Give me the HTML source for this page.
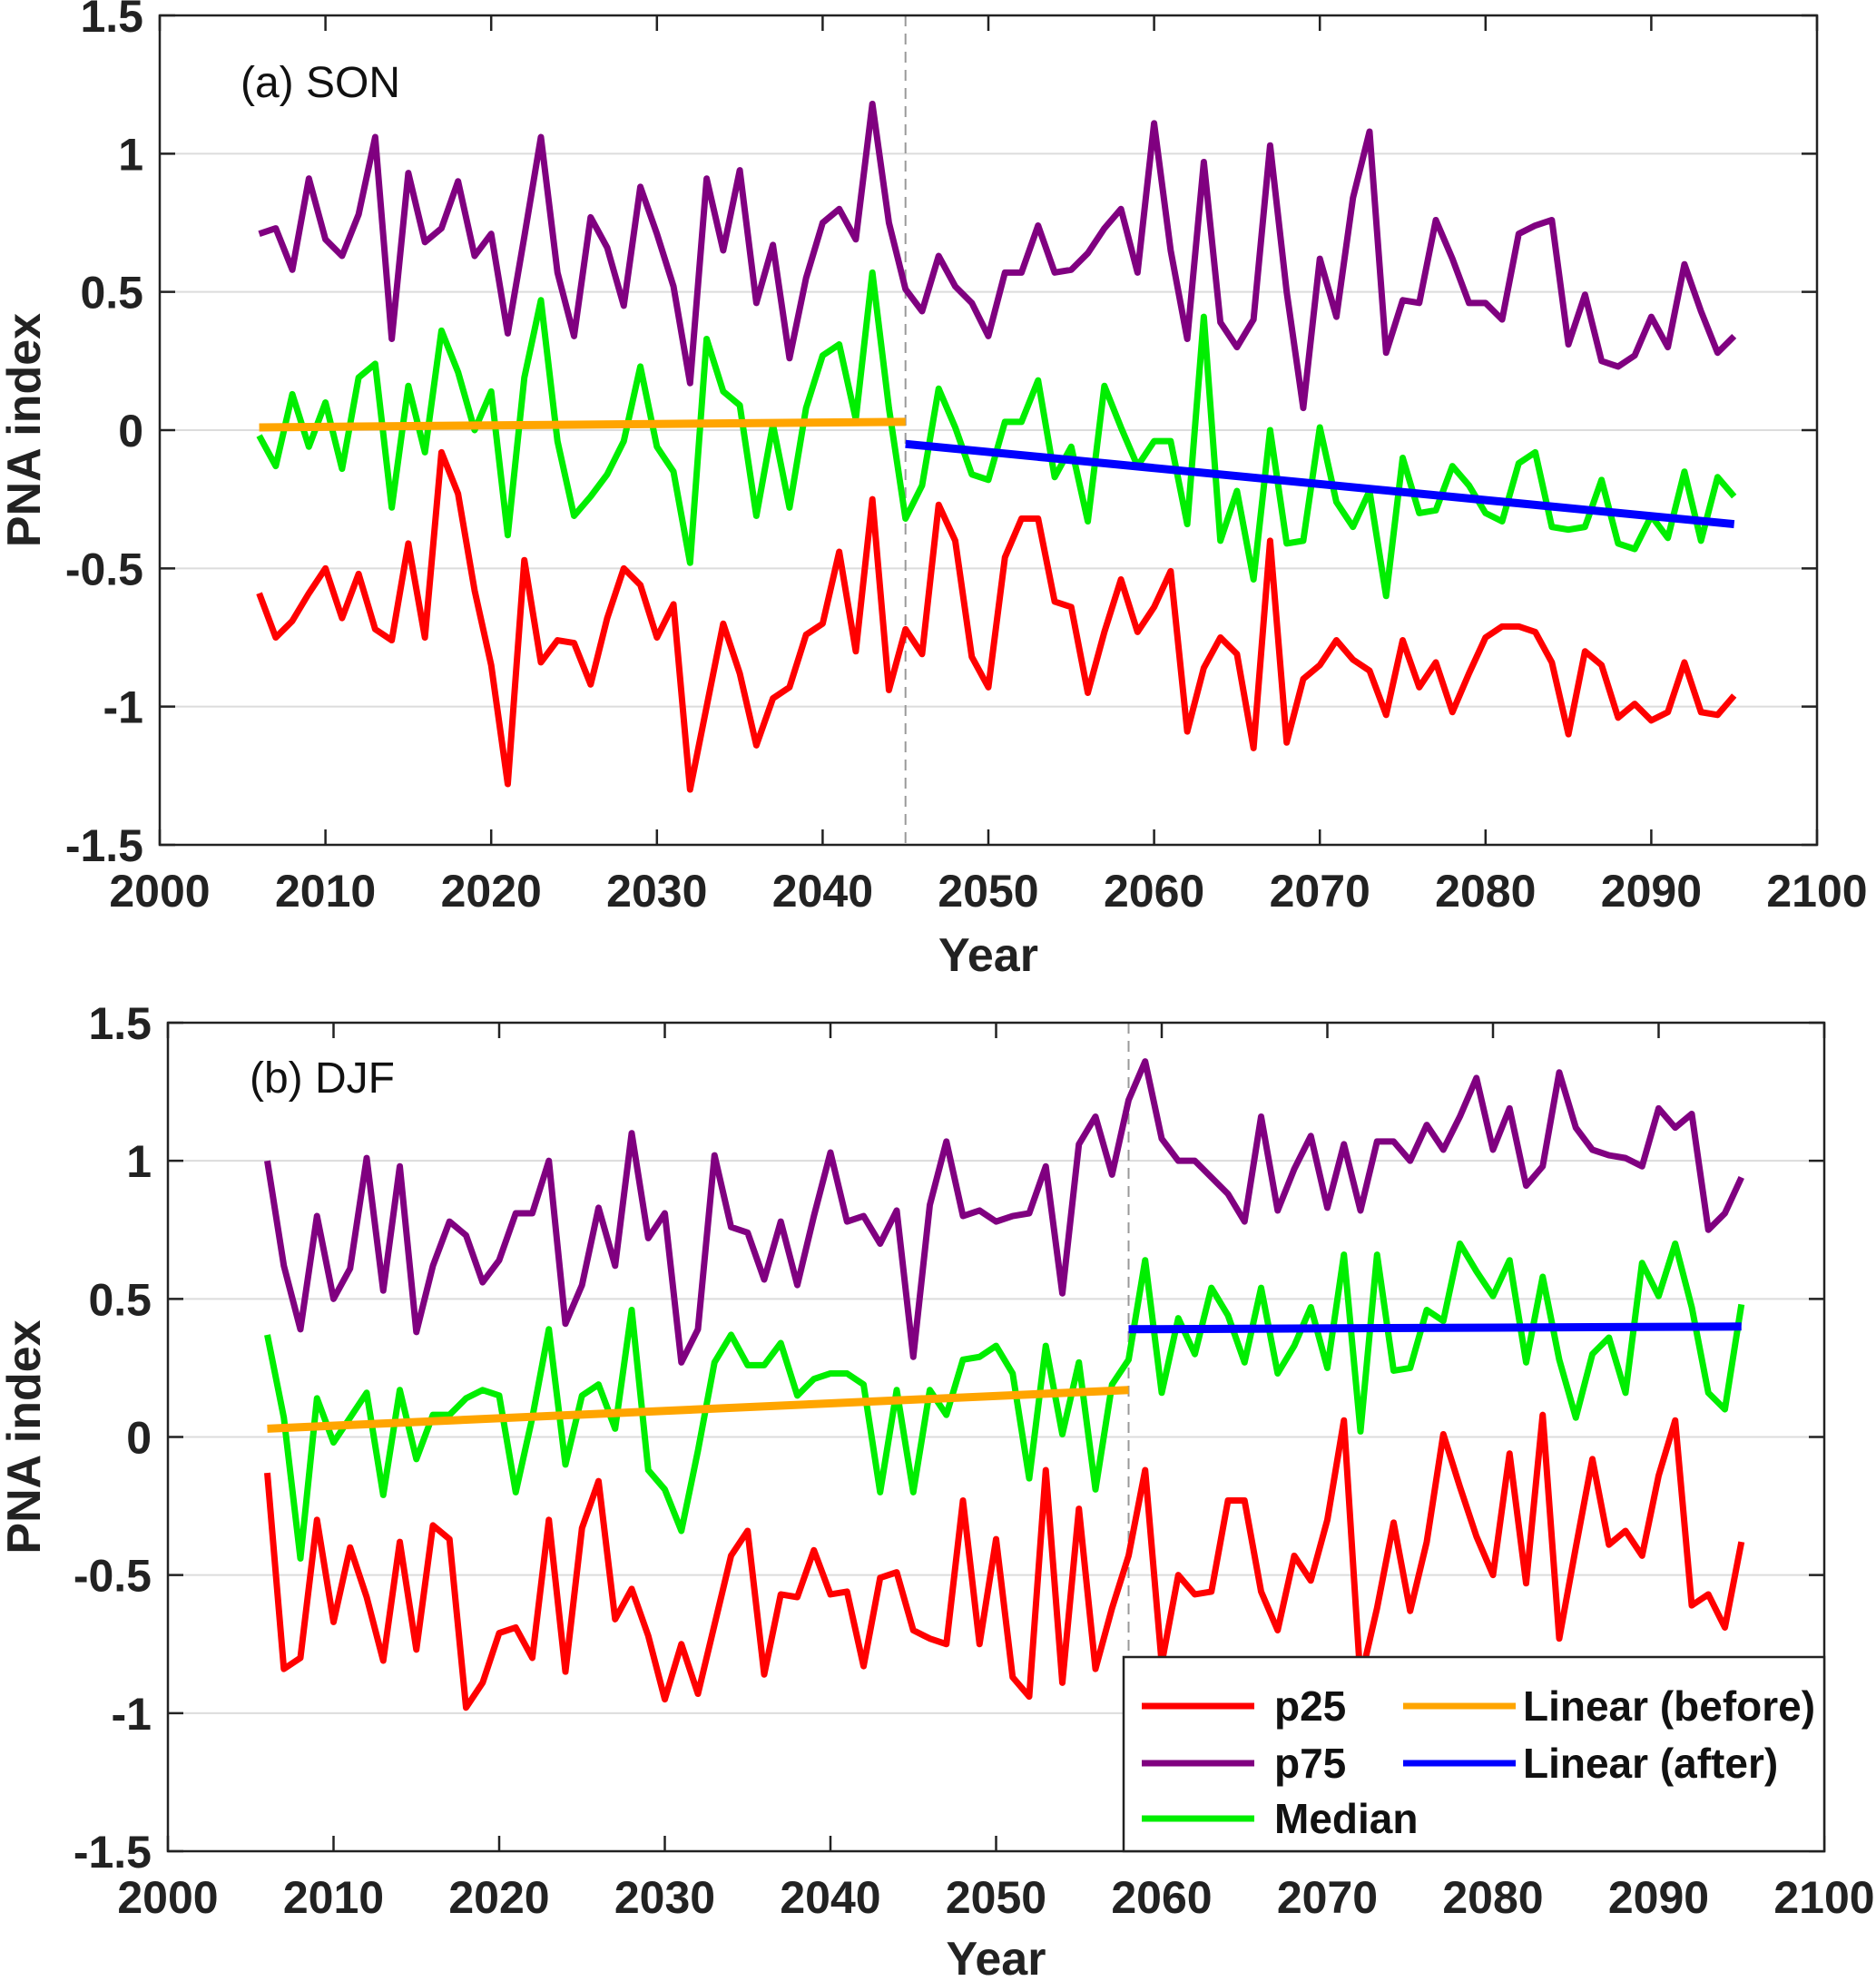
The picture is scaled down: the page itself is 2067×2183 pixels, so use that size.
<!DOCTYPE html>
<html><head><meta charset="utf-8"><style>
body{margin:0;background:#fff}
svg{display:block;font-family:"Liberation Sans",Arial,sans-serif}
</style></head><body>
<svg id="fig" width="2067" height="2183" viewBox="0 0 2067 2183" xmlns="http://www.w3.org/2000/svg"></svg>
<script>
const years = Array.from({length:90},(_, i)=>2006+i);
const xTicks = [2000,2010,2020,2030,2040,2050,2060,2070,2080,2090,2100];
const yTicks = [-1.5,-1,-0.5,0,0.5,1,1.5];
const yTickLabels = ["-1.5","-1","-0.5","0","0.5","1","1.5"];

const sonP75 = [0.71,0.73,0.58,0.91,0.69,0.63,0.78,1.06,0.33,0.93,0.68,0.73,0.90,0.63,0.71,0.35,0.70,1.06,0.57,0.34,0.77,0.66,0.45,0.88,0.71,0.52,0.17,0.91,0.65,0.94,0.46,0.67,0.26,0.55,0.75,0.80,0.69,1.18,0.75,0.51,0.43,0.63,0.52,0.46,0.34,0.57,0.57,0.74,0.57,0.58,0.64,0.73,0.80,0.57,1.11,0.65,0.33,0.97,0.39,0.30,0.40,1.03,0.50,0.08,0.62,0.41,0.84,1.08,0.28,0.47,0.46,0.76,0.62,0.46,0.46,0.40,0.71,0.74,0.76,0.31,0.49,0.25,0.23,0.27,0.41,0.30,0.60,0.43,0.28,0.34];
const sonMed = [-0.02,-0.13,0.13,-0.06,0.10,-0.14,0.19,0.24,-0.28,0.16,-0.08,0.36,0.21,0.00,0.14,-0.38,0.19,0.47,-0.04,-0.31,-0.24,-0.16,-0.04,0.23,-0.06,-0.15,-0.48,0.33,0.14,0.09,-0.31,0.02,-0.28,0.08,0.27,0.31,0.04,0.57,0.08,-0.32,-0.20,0.15,0.01,-0.16,-0.18,0.03,0.03,0.18,-0.17,-0.06,-0.33,0.16,0.01,-0.13,-0.04,-0.04,-0.34,0.41,-0.40,-0.22,-0.54,0.00,-0.41,-0.40,0.01,-0.26,-0.35,-0.22,-0.60,-0.10,-0.30,-0.29,-0.13,-0.20,-0.30,-0.33,-0.12,-0.08,-0.35,-0.36,-0.35,-0.18,-0.41,-0.43,-0.31,-0.39,-0.15,-0.40,-0.17,-0.24];
const sonP25 = [-0.59,-0.75,-0.69,-0.59,-0.50,-0.68,-0.52,-0.72,-0.76,-0.41,-0.75,-0.08,-0.23,-0.58,-0.85,-1.28,-0.47,-0.84,-0.76,-0.77,-0.92,-0.68,-0.50,-0.56,-0.75,-0.63,-1.30,-1.00,-0.70,-0.88,-1.14,-0.97,-0.93,-0.74,-0.70,-0.44,-0.80,-0.25,-0.94,-0.72,-0.81,-0.27,-0.40,-0.82,-0.93,-0.46,-0.32,-0.32,-0.62,-0.64,-0.95,-0.73,-0.54,-0.73,-0.64,-0.51,-1.09,-0.86,-0.75,-0.81,-1.15,-0.40,-1.13,-0.90,-0.85,-0.76,-0.83,-0.87,-1.03,-0.76,-0.93,-0.84,-1.02,-0.88,-0.75,-0.71,-0.71,-0.73,-0.84,-1.10,-0.80,-0.85,-1.04,-0.99,-1.05,-1.02,-0.84,-1.02,-1.03,-0.96];
const sonBreak = 2045;
const sonTrendBefore = [[2006,0.01],[2045,0.03]];
const sonTrendAfter = [[2045,-0.05],[2095,-0.34]];

const djfP75 = [1.00,0.62,0.39,0.80,0.50,0.61,1.01,0.53,0.98,0.38,0.62,0.78,0.73,0.56,0.64,0.81,0.81,1.00,0.41,0.55,0.83,0.62,1.10,0.72,0.81,0.27,0.39,1.02,0.76,0.74,0.57,0.78,0.55,0.80,1.03,0.78,0.80,0.70,0.82,0.29,0.84,1.07,0.80,0.82,0.78,0.80,0.81,0.98,0.52,1.06,1.16,0.95,1.22,1.36,1.08,1.00,1.00,0.94,0.88,0.78,1.16,0.82,0.97,1.09,0.83,1.06,0.82,1.07,1.07,1.00,1.13,1.04,1.16,1.30,1.04,1.19,0.91,0.98,1.32,1.12,1.04,1.02,1.01,0.98,1.19,1.12,1.17,0.75,0.81,0.94];
const djfMed = [0.37,0.07,-0.44,0.14,-0.02,0.07,0.16,-0.21,0.17,-0.08,0.08,0.08,0.14,0.17,0.15,-0.20,0.07,0.39,-0.10,0.15,0.19,0.03,0.46,-0.12,-0.19,-0.34,-0.05,0.27,0.37,0.26,0.26,0.34,0.15,0.21,0.23,0.23,0.19,-0.20,0.17,-0.20,0.17,0.08,0.28,0.29,0.33,0.23,-0.15,0.33,0.01,0.27,-0.19,0.19,0.28,0.64,0.16,0.43,0.30,0.54,0.44,0.27,0.54,0.23,0.33,0.47,0.25,0.66,0.02,0.66,0.24,0.25,0.46,0.42,0.70,0.60,0.51,0.64,0.27,0.58,0.28,0.07,0.30,0.36,0.16,0.63,0.51,0.70,0.47,0.16,0.10,0.48];
const djfP25 = [-0.13,-0.84,-0.80,-0.30,-0.67,-0.40,-0.58,-0.81,-0.38,-0.77,-0.32,-0.37,-0.98,-0.89,-0.71,-0.69,-0.80,-0.30,-0.85,-0.33,-0.16,-0.66,-0.55,-0.72,-0.95,-0.75,-0.93,-0.68,-0.43,-0.34,-0.86,-0.57,-0.58,-0.41,-0.57,-0.56,-0.83,-0.51,-0.49,-0.70,-0.73,-0.75,-0.23,-0.75,-0.37,-0.87,-0.94,-0.12,-0.89,-0.26,-0.84,-0.62,-0.43,-0.12,-0.82,-0.50,-0.57,-0.56,-0.23,-0.23,-0.56,-0.70,-0.43,-0.52,-0.30,0.06,-0.88,-0.62,-0.31,-0.63,-0.38,0.01,-0.18,-0.36,-0.50,-0.06,-0.53,0.08,-0.73,-0.40,-0.08,-0.39,-0.34,-0.43,-0.14,0.06,-0.61,-0.57,-0.69,-0.38];
const djfBreak = 2058;
const djfTrendBefore = [[2006,0.03],[2058,0.17]];
const djfTrendAfter = [[2058,0.39],[2095,0.40]];

const NS="http://www.w3.org/2000/svg";
const svg=document.getElementById('fig');
function mk(tag,attrs,parent){const e=document.createElementNS(NS,tag);for(const k in attrs)e.setAttribute(k,attrs[k]);(parent||svg).appendChild(e);return e;}

function panel(cfg){
  const {L,R,T,B,name}=cfg;
  const g=mk('g',{});
  
  
  const xs=v=>L+(v-2000)/100*(R-L);
  const ys=v=>B-(v+1.5)/3*(B-T);
  yTicks.forEach((t,i)=>{
    if(t>-1.5&&t<1.5){const gl=mk('line',{x1:L,x2:R,y1:ys(t),y2:ys(t),stroke:'#dcdcdc','stroke-width':2},g);
      
      }
    mk('line',{x1:L,x2:L+17,y1:ys(t),y2:ys(t),stroke:'#222','stroke-width':2.5},g);
    mk('line',{x1:R,x2:R-17,y1:ys(t),y2:ys(t),stroke:'#222','stroke-width':2.5},g);
    const tx=mk('text',{x:L-18,y:ys(t)+18,'text-anchor':'end','font-size':50,'font-weight':'bold',fill:'#222'},g);
    tx.textContent=yTickLabels[i];
    
    
  });
  xTicks.forEach(t=>{
    mk('line',{x1:xs(t),x2:xs(t),y1:B,y2:B-17,stroke:'#222','stroke-width':2.5},g);
    mk('line',{x1:xs(t),x2:xs(t),y1:T,y2:T+17,stroke:'#222','stroke-width':2.5},g);
    const tx=mk('text',{x:xs(t),y:B+68,'text-anchor':'middle','font-size':50,'font-weight':'bold',fill:'#222'},g);
    tx.textContent=String(t);
    
    
  });
  const dl=mk('line',{x1:xs(cfg.brk),x2:xs(cfg.brk),y1:T,y2:B,stroke:'#999','stroke-width':2,'stroke-dasharray':'12,8'},g);
  
  
  const series=[[cfg.p25,'#ff0000','p25-line'],[cfg.p75,'#800080','p75-line'],[cfg.med,'#00ee00','median-line']];
  series.forEach(([arr,col,nm])=>{
    const p=mk('polyline',{points:arr.map((v,i)=>xs(years[i])+','+ys(v)).join(' '),fill:'none',stroke:col,'stroke-width':7,'stroke-linejoin':'round'},g);
    
    
  });
  [[cfg.tb,'#ffa500','trend-before-line'],[cfg.ta,'#0000ff','trend-after-line']].forEach(([pts,col,nm])=>{
    const p=mk('line',{x1:xs(pts[0][0]),y1:ys(pts[0][1]),x2:xs(pts[1][0]),y2:ys(pts[1][1]),stroke:col,'stroke-width':9},g);
    
    
  });
  const box=mk('rect',{x:L,y:T,width:R-L,height:B-T,fill:'none',stroke:'#222','stroke-width':2.5},g);
  
  
  const an=mk('text',{x:cfg.ax,y:cfg.ay,'font-size':48,fill:'#111'},g);
  an.textContent=cfg.label;
  
  
  const xl=mk('text',{x:(L+R)/2,y:cfg.xly,'text-anchor':'middle','font-size':52,'font-weight':'bold',fill:'#222'},g);
  xl.textContent='Year';
  
  
  const yl=mk('text',{x:0,y:0,'text-anchor':'middle','font-size':52,'font-weight':'bold',fill:'#222',transform:`translate(44,${(T+B)/2}) rotate(-90)`},g);
  yl.textContent='PNA index';
  
  
  return {g,xs,ys};
}
panel({L:176,R:2002,T:17,B:931,name:'son-panel',brk:sonBreak,p25:sonP25,p75:sonP75,med:sonMed,tb:sonTrendBefore,ta:sonTrendAfter,ax:265,ay:107,label:'(a) SON',xly:1070});
panel({L:185,R:2010,T:1127,B:2040,name:'djf-panel',brk:djfBreak,p25:djfP25,p75:djfP75,med:djfMed,tb:djfTrendBefore,ta:djfTrendAfter,ax:275,ay:1204,label:'(b) DJF',xly:2176});

// legend
const lg=mk('g',{});


mk('rect',{x:1238,y:1826,width:772,height:214,fill:'#fff',stroke:'#222','stroke-width':2.5},lg);
const legItems=[['p25','#ff0000',1258,1880],['p75','#800080',1258,1943],['Median','#00ee00',1258,2004],['Linear (before)','#ffa500',1546,1880],['Linear (after)','#0000ff',1546,1943]];
legItems.forEach(([t,c,x,y])=>{
  const e=mk('g',{},lg);
  
  
  mk('line',{x1:x,x2:x+124,y1:y,y2:y,stroke:c,'stroke-width':7},e);
  const tx=mk('text',{x:x+(x<1400?146:132),y:y+16,'font-size':46,'font-weight':'bold',fill:'#111'},e);
  tx.textContent=t;
});
</script>
</body></html>
